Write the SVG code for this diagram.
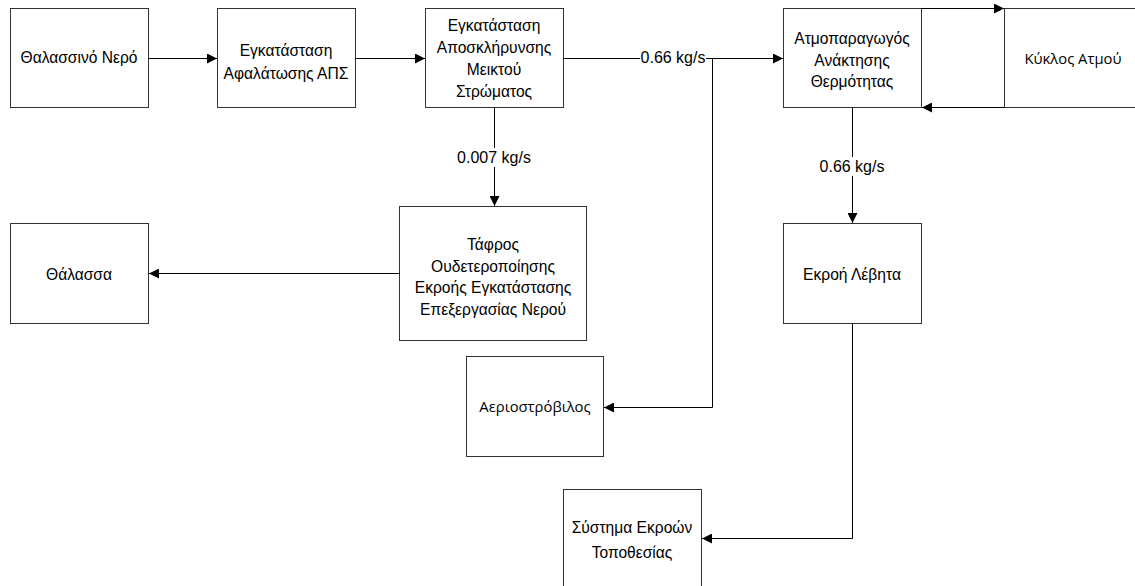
<svg xmlns="http://www.w3.org/2000/svg" width="1135" height="586" viewBox="0 0 1135 586">
<defs>
<marker id="arr" markerUnits="userSpaceOnUse" markerWidth="11" markerHeight="10" refX="10" refY="5" orient="auto">
<path d="M0,0 L10,5 L0,10 Z" fill="#000"/>
</marker>
<style>
.box{fill:#fff;stroke:#333;stroke-width:1}
.t{font-family:"Liberation Sans",Arial,sans-serif;font-size:15.6px;fill:#000;text-anchor:middle}
.s{font-family:"Open Sans","Liberation Sans",sans-serif;font-size:14.8px;fill:#000;text-anchor:middle}
.e{fill:none;stroke:#000;stroke-width:1}
.lbl{font-family:"Liberation Sans",Arial,sans-serif;font-size:16px;fill:#000;text-anchor:middle}
</style>
</defs>
<rect width="1135" height="586" fill="#fff"/>
<g id="n1"><rect class="box" x="10.5" y="8.5" width="138" height="99"/><text class="t" x="79" y="63">Θαλασσινό Νερό</text></g>
<g id="n2"><rect class="box" x="217.5" y="8.5" width="138" height="99"/><text class="t" x="286" y="56">Εγκατάσταση</text><text class="t" x="286" y="79">Αφαλάτωσης ΑΠΣ</text></g>
<g id="n3"><rect class="box" x="425.5" y="8.5" width="138" height="99"/><text class="t" x="494" y="31">Εγκατάσταση</text><text class="t" x="494" y="53">Αποσκλήρυνσης</text><text class="t" x="494" y="75">Μεικτού</text><text class="t" x="494" y="97">Στρώματος</text></g>
<g id="n4"><rect class="box" x="783.5" y="8.5" width="138" height="99"/><text class="t" x="852" y="44">Ατμοπαραγωγός</text><text class="t" x="852" y="66">Ανάκτησης</text><text class="t" x="852" y="87">Θερμότητας</text></g>
<g id="n5"><rect class="box" x="1004.5" y="8.5" width="138" height="99"/><text class="s" x="1073" y="64">Κύκλος Ατμού</text></g>
<g id="n6"><rect class="box" x="10.5" y="223.5" width="138" height="100"/><text class="t" x="79" y="280">Θάλασσα</text></g>
<g id="n7"><rect class="box" x="399.5" y="206.5" width="187" height="134"/><text class="t" x="493" y="250">Τάφρος</text><text class="t" x="493" y="272">Ουδετεροποίησης</text><text class="t" x="493" y="293">Εκροής Εγκατάστασης</text><text class="t" x="493" y="315">Επεξεργασίας Νερού</text></g>
<g id="n8"><rect class="box" x="783.5" y="223.5" width="138" height="100"/><text class="t" x="852" y="280">Εκροή Λέβητα</text></g>
<g id="n9"><rect class="box" x="466.5" y="356.5" width="137" height="100"/><text class="s" x="535" y="412">Αεριοστρόβιλος</text></g>
<g id="n10"><rect class="box" x="563.5" y="489.5" width="138" height="100"/><text class="t" x="632" y="533">Σύστημα Εκροών</text><text class="t" x="632" y="558">Τοποθεσίας</text></g>
<g id="connectors">
<path class="e" d="M148.5,58.5 H217" marker-end="url(#arr)"/>
<path class="e" d="M355.5,58.5 H425" marker-end="url(#arr)"/>
<path class="e" d="M563.5,58.5 H783" marker-end="url(#arr)"/>
<path class="e" d="M712.5,58.5 V407.5 H604" marker-end="url(#arr)"/>
<path class="e" d="M494.5,107.5 V206" marker-end="url(#arr)"/>
<path class="e" d="M399.5,273.5 H149" marker-end="url(#arr)"/>
<path class="e" d="M921.5,8.5 H1004" marker-end="url(#arr)"/>
<path class="e" d="M1004.5,107.5 H922" marker-end="url(#arr)"/>
<path class="e" d="M852.5,107.5 V223" marker-end="url(#arr)"/>
<path class="e" d="M852.5,323.5 V538.5 H702" marker-end="url(#arr)"/>
<rect x="640" y="48" width="66" height="19" fill="#fff"/>
<text class="lbl" x="673" y="63">0.66 kg/s</text>
<rect x="456" y="148" width="76" height="19" fill="#fff"/>
<text class="lbl" x="494" y="163">0.007 kg/s</text>
<rect x="819" y="157" width="67" height="19" fill="#fff"/>
<text class="lbl" x="852" y="172">0.66 kg/s</text>
</g>
</svg>
